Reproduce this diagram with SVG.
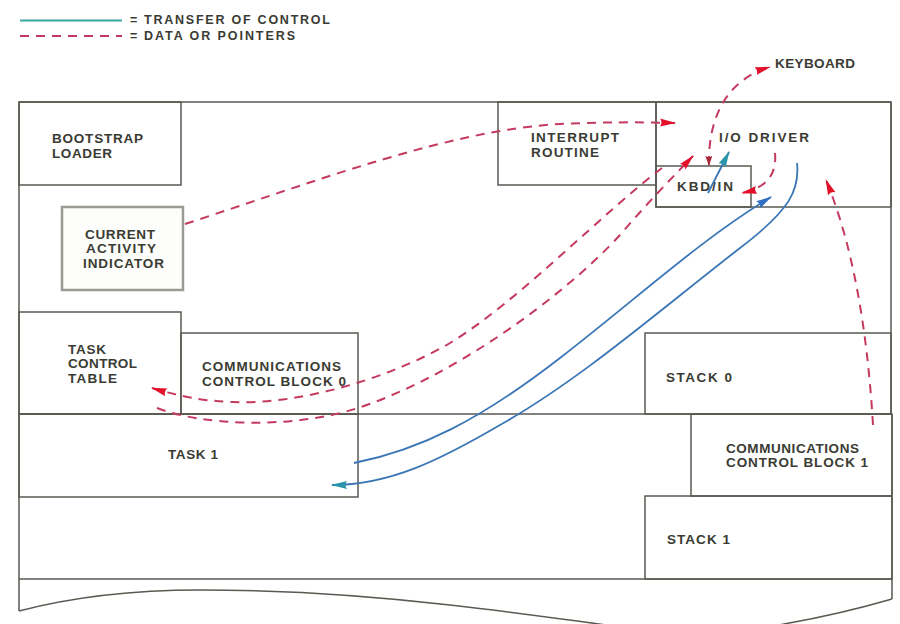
<svg xmlns="http://www.w3.org/2000/svg" width="900" height="624" viewBox="0 0 900 624">
<style>
.box{fill:none;stroke:#5a5a52;stroke-width:1.5}
.lbl{font-family:"Liberation Sans",Arial,sans-serif;font-size:13.5px;font-weight:bold;fill:#3a3b33}
.leg{font-family:"Liberation Sans",Arial,sans-serif;font-size:12.5px;font-weight:bold;fill:#3a3b33}
.data{fill:none;stroke:#c43a5e;stroke-width:2;stroke-dasharray:9 7}
.ctl{fill:none;stroke:#3a76b6;stroke-width:1.8}
</style>
<defs>
<marker id="ahR" viewBox="0 0 16 9" refX="15" refY="4.5" markerWidth="16" markerHeight="9" markerUnits="userSpaceOnUse" orient="auto">
<path d="M0,0.5 L16,4.5 L0,8.5 Q3,4.5 0,0.5 Z" fill="#e3102c"/>
</marker>
<marker id="ahB" viewBox="0 0 16 9" refX="15" refY="4.5" markerWidth="16" markerHeight="9" markerUnits="userSpaceOnUse" orient="auto">
<path d="M0,0.5 L16,4.5 L0,8.5 Q3,4.5 0,0.5 Z" fill="#2f6fc4"/>
</marker>
<marker id="ahT" viewBox="0 0 16 9" refX="15" refY="4.5" markerWidth="16" markerHeight="9" markerUnits="userSpaceOnUse" orient="auto">
<path d="M0,0.5 L16,4.5 L0,8.5 Q3,4.5 0,0.5 Z" fill="#2a95a8"/>
</marker>
<marker id="blob" viewBox="0 0 10 8" refX="9" refY="4" markerWidth="10" markerHeight="8" markerUnits="userSpaceOnUse" orient="auto-start-reverse">
<path d="M0,0.5 L10,4 L0,7.5 Q2,4 0,0.5 Z" fill="#a8283c"/>
</marker>
</defs>
<rect width="900" height="624" fill="#ffffff"/>

<g id="legend">
<line x1="20" y1="20.5" x2="122" y2="20.5" stroke="#3aa6a2" stroke-width="2"/>
<line x1="20" y1="36" x2="122" y2="36" stroke="#c43a5e" stroke-width="2" stroke-dasharray="9 7"/>
<text class="leg" x="130" y="24" font-size="8">=</text>
<text class="leg" x="130" y="40" font-size="8">=</text>
<text class="leg" x="144" y="24" textLength="186" lengthAdjust="spacing">TRANSFER OF CONTROL</text>
<text class="leg" x="144" y="40" textLength="151" lengthAdjust="spacing">DATA OR POINTERS</text>
</g>

<g id="frame" class="box">
<path d="M19,102 H891 M19,102 V611 M891,102 V414 M892,414 V599 M19,414 H892 M19,579 H892"/>
<path d="M19,611 C80,595 140,590 200,590 C300,590 380,597 450,605 C560,617 660,635 700,634 C740,633 820,620 892,599"/>
</g>

<g id="bootstrap-loader">
<rect class="box" x="19" y="102" width="162" height="83"/>
<text class="lbl" x="52" y="143" textLength="91" lengthAdjust="spacing">BOOTSTRAP</text>
<text class="lbl" x="52" y="158" textLength="60" lengthAdjust="spacing">LOADER</text>
</g>

<g id="current-activity-indicator">
<rect x="62" y="207" width="121" height="83" fill="#fdfdfb" stroke="#9a9a94" stroke-width="2.5"/>
<text class="lbl" x="85" y="239" textLength="70" lengthAdjust="spacing">CURRENT</text>
<text class="lbl" x="86" y="253" textLength="70" lengthAdjust="spacing">ACTIVITY</text>
<text class="lbl" x="83" y="268" textLength="81" lengthAdjust="spacing">INDICATOR</text>
</g>

<g id="interrupt-routine">
<rect class="box" x="498" y="102" width="158" height="83"/>
<text class="lbl" x="531" y="142" textLength="88" lengthAdjust="spacing">INTERRUPT</text>
<text class="lbl" x="531" y="157" textLength="68" lengthAdjust="spacing">ROUTINE</text>
</g>

<g id="io-driver">
<rect class="box" x="656" y="102" width="235" height="105"/>
<text class="lbl" x="719" y="142" textLength="90" lengthAdjust="spacing">I/O DRIVER</text>
</g>

<g id="kbd-in">
<rect class="box" x="656" y="166" width="95" height="41"/>
<text class="lbl" x="677" y="191" textLength="56" lengthAdjust="spacing">KBD/IN</text>
</g>

<g id="keyboard">
<text class="lbl" x="775" y="68" textLength="80" lengthAdjust="spacing">KEYBOARD</text>
</g>

<g id="task-control-table">
<rect class="box" x="19" y="312" width="162" height="102"/>
<text class="lbl" x="68" y="354" textLength="38" lengthAdjust="spacing">TASK</text>
<text class="lbl" x="68" y="368" textLength="69" lengthAdjust="spacing">CONTROL</text>
<text class="lbl" x="68" y="383" textLength="49" lengthAdjust="spacing">TABLE</text>
</g>

<g id="ccb0">
<rect class="box" x="181" y="333" width="177" height="81"/>
<text class="lbl" x="202" y="371" textLength="139" lengthAdjust="spacing">COMMUNICATIONS</text>
<text class="lbl" x="202" y="386" textLength="144" lengthAdjust="spacing">CONTROL BLOCK 0</text>
</g>

<g id="task1">
<rect class="box" x="19" y="414" width="339" height="83"/>
<text class="lbl" x="168" y="459" textLength="50" lengthAdjust="spacing">TASK 1</text>
</g>

<g id="stack0">
<rect class="box" x="645" y="333" width="246" height="81"/>
<text class="lbl" x="666" y="382" textLength="66" lengthAdjust="spacing">STACK 0</text>
</g>

<g id="ccb1">
<rect class="box" x="691" y="414" width="201" height="82"/>
<text class="lbl" x="726" y="453" textLength="133" lengthAdjust="spacing">COMMUNICATIONS</text>
<text class="lbl" x="726" y="467" textLength="142" lengthAdjust="spacing">CONTROL BLOCK 1</text>
</g>

<g id="stack1">
<rect class="box" x="645" y="496" width="247" height="83"/>
<text class="lbl" x="667" y="544" textLength="63" lengthAdjust="spacing">STACK 1</text>
</g>

<g id="connectors">
<path class="data" d="M185,224 C320,180 450,130 560,124 C600,122 640,122 675,123" marker-end="url(#ahR)"/>
<path class="data" d="M709,165 C708,120 725,80 770,67" marker-start="url(#blob)" marker-end="url(#ahR)"/>
<path class="data" d="M662,168 C600,215 520,300 450,343 C390,378 300,405 233,402 C200,401 175,395 152,388" marker-end="url(#ahR)"/>
<path class="data" d="M157,408 C200,425 290,430 358,408 C450,378 560,300 620,235 C650,200 670,180 693,156" marker-end="url(#ahR)"/>
<path class="data" d="M775,153 C777,175 766,188 742,193" marker-end="url(#ahR)"/>
<path class="data" d="M873,425 C868,340 855,250 826,180" marker-end="url(#ahR)"/>
<path class="ctl" d="M354,463 C420,450 480,420 560,358 C640,296 700,240 771,197" marker-end="url(#ahB)"/>
<path class="ctl" d="M797,163 C800,190 790,210 740,248 C660,310 580,380 500,425 C440,460 390,485 332,485" marker-end="url(#ahT)"/>
<path class="ctl" d="M708,193 L729,152" stroke="#2a95a8" marker-end="url(#ahT)"/>
</g>
</svg>
